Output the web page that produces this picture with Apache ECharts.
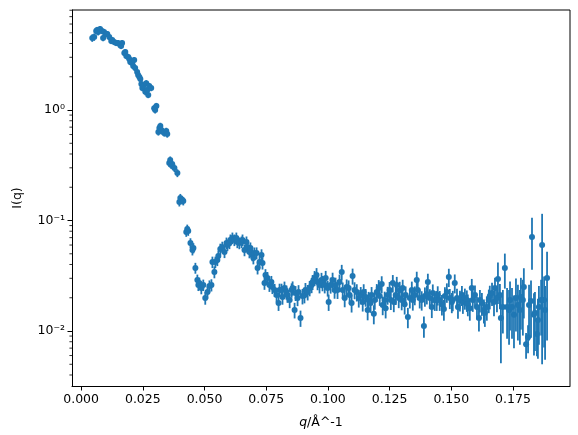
<!DOCTYPE html>
<html>
<head>
<meta charset="utf-8">
<script src="https://cdn.jsdelivr.net/npm/echarts@6/dist/echarts.min.js"></script>
<style>
html, body { margin: 0; padding: 0; background: #fff; }
#chart { width: 578px; height: 435px; }
</style>
</head>
<body>
<div id="chart"></div>
<script>
// scattering vector q (1/Å)
var qValues = [
  0.0045,0.0053,0.0061,0.0065,0.0069,0.0077,0.0085,0.0089,0.0093,0.0102,
  0.0106,0.0114,0.0122,0.0126,0.0134,0.0142,0.0150,0.0158,0.0162,0.0166,
  0.0175,0.0179,0.0183,0.0191,0.0195,0.0199,0.0207,0.0211,0.0215,0.0219,
  0.0227,0.0231,0.0236,0.0240,0.0244,0.0248,0.0252,0.0260,0.0264,0.0268,
  0.0272,0.0276,0.0284,0.0296,0.0300,0.0305,0.0313,0.0317,0.0321,0.0325,
  0.0333,0.0337,0.0345,0.0349,0.0357,0.0361,0.0365,0.0369,0.0378,0.0390,
  0.0398,0.0402,0.0410,0.0414,0.0426,0.0430,0.0434,0.0443,0.0451,0.0455,
  0.0463,0.0471,0.0475,0.0479,0.0487,0.0495,0.0503,0.0512,0.0520,0.0528,
  0.0532,0.0540,0.0544,0.0552,0.0556,0.0564,0.0572,0.0581,0.0589,0.0593,
  0.0601,0.0605,0.0613,0.0621,0.0629,0.0633,0.0641,0.0650,0.0654,0.0662,
  0.0670,0.0674,0.0682,0.0686,0.0694,0.0698,0.0702,0.0711,0.0715,0.0723,
  0.0731,0.0735,0.0743,0.0747,0.0755,0.0763,0.0771,0.0775,0.0784,0.0792,
  0.0800,0.0804,0.0812,0.0816,0.0824,0.0832,0.0836,0.0845,0.0853,0.0857,
  0.0865,0.0869,0.0877,0.0881,0.0889,0.0897,0.0905,0.0909,0.0918,0.0926,
  0.0934,0.0938,0.0946,0.0954,0.0958,0.0966,0.0974,0.0978,0.0987,0.0991,
  0.0999,0.1003,0.1011,0.1019,0.1027,0.1031,0.1039,0.1047,0.1056,0.1060,
  0.1068,0.1076,0.1084,0.1088,0.1096,0.1100,0.1108,0.1117,0.1125,0.1133,
  0.1141,0.1145,0.1153,0.1161,0.1165,0.1173,0.1177,0.1186,0.1190,0.1198,
  0.1206,0.1210,0.1218,0.1222,0.1230,0.1234,0.1242,0.1250,0.1255,0.1263,
  0.1267,0.1275,0.1279,0.1287,0.1291,0.1299,0.1303,0.1311,0.1315,0.1324,
  0.1332,0.1340,0.1344,0.1352,0.1360,0.1364,0.1372,0.1380,0.1389,0.1393,
  0.1401,0.1405,0.1413,0.1421,0.1425,0.1433,0.1441,0.1445,0.1453,0.1462,
  0.1470,0.1474,0.1482,0.1490,0.1494,0.1502,0.1506,0.1514,0.1523,0.1527,
  0.1535,0.1543,0.1547,0.1555,0.1563,0.1567,0.1575,0.1583,0.1587,0.1596,
  0.1604,0.1612,0.1616,0.1624,0.1632,0.1636,0.1644,0.1652,0.1656,0.1665,
  0.1673,0.1677,0.1685,0.1689,0.1697,0.1701,0.1709,0.1717,0.1726,0.1734,
  0.1738,0.1746,0.1754,0.1762,0.1770,0.1778,0.1782,0.1790,0.1794,0.1803,
  0.1811,0.1815,0.1823,0.1827,0.1835,0.1839,0.1847,0.1851,0.1855,0.1864,
  0.1868,0.1876,0.1880,0.1888
];

// intensity I(q)
var intensity = [
  4.49,4.58,5.19,5.30,5.08,5.41,5.19,4.49,5.08,4.87,
  4.87,4.58,4.21,4.30,4.12,4.04,4.04,3.87,3.79,4.04,
  3.28,3.35,3.08,3.02,2.90,2.72,2.66,2.50,2.83,2.40,
  2.21,2.07,1.99,1.91,1.72,1.58,1.65,1.46,1.75,1.52,
  1.37,1.65,1.58,1.04,1.00,1.09,0.632,0.687,0.717,0.659,
  0.632,0.619,0.646,0.607,0.331,0.353,0.318,0.325,0.299,0.269,
  0.147,0.160,0.153,0.150,0.0787,0.0838,0.0804,0.0626,0.0541,0.0564,
  0.0372,0.0290,0.0261,0.0272,0.0245,0.0261,0.0199,0.0225,0.0255,0.0261,
  0.0421,0.0342,0.0421,0.0439,0.0477,0.0552,0.0575,0.0519,0.0626,0.0600,
  0.0626,0.0667,0.0695,0.0667,0.0695,0.0639,0.0626,0.0639,0.0667,0.0541,
  0.0639,0.0575,0.0519,0.0564,0.0488,0.0458,0.0508,0.0508,0.0372,0.0421,
  0.0488,0.0412,0.0272,0.0321,0.0302,0.0261,0.0278,0.0250,0.0235,0.0212,
  0.0179,0.0235,0.0235,0.0203,0.0245,0.0225,0.0212,0.0191,0.0235,0.0245,
  0.0155,0.0221,0.0199,0.0225,0.0131,0.0207,0.0212,0.0235,0.0225,0.0245,
  0.0261,0.0278,0.0302,0.0321,0.0278,0.0261,0.0290,0.0272,0.0261,0.0302,
  0.0245,0.0183,0.0261,0.0290,0.0235,0.0261,0.0235,0.0278,0.0342,0.0235,
  0.0199,0.0250,0.0245,0.0212,0.0179,0.0315,0.0235,0.0225,0.0199,0.0212,
  0.0183,0.0225,0.0203,0.0155,0.0191,0.0179,0.0212,0.0143,0.0191,0.0225,
  0.0245,0.0207,0.0266,0.0172,0.0191,0.0161,0.0212,0.0235,0.0191,0.0272,
  0.0183,0.0212,0.0261,0.0199,0.0235,0.0191,0.0245,0.0175,0.0212,0.0134,
  0.0199,0.0235,0.0191,0.0212,0.0290,0.0235,0.0199,0.0191,0.0111,0.0207,
  0.0216,0.0278,0.0199,0.0165,0.0221,0.0191,0.0191,0.0212,0.0191,0.0175,
  0.0158,0.0207,0.0225,0.0308,0.0199,0.0183,0.0191,0.0272,0.0199,0.0165,
  0.0191,0.0212,0.0183,0.0199,0.0191,0.0175,0.0161,0.0245,0.0191,0.0212,
  0.0165,0.0131,0.0191,0.0179,0.0155,0.0146,0.0165,0.0191,0.0207,0.0221,
  0.0183,0.0245,0.0199,0.0296,0.0212,0.0131,0.0165,0.0372,0.0165,0.0155,
  0.0191,0.0165,0.0140,0.0199,0.0172,0.0155,0.0203,0.0191,0.0250,0.0076,
  0.0088,0.0172,0.0187,0.0709,0.0140,0.0146,0.0094,0.0126,0.0165,0.0191,
  0.0600,0.0191,0.0155,0.0302
];

// error bar half-lengths
var errors = [
  0.35,0.35,0.35,0.35,0.35,0.35,0.33,0.30,0.33,0.30,
  0.30,0.28,0.26,0.26,0.25,0.25,0.24,0.23,0.23,0.24,
  0.20,0.20,0.19,0.18,0.18,0.17,0.16,0.15,0.17,0.15,
  0.14,0.13,0.12,0.12,0.11,0.10,0.10,0.10,0.11,0.10,
  0.09,0.11,0.10,0.07,0.07,0.07,0.045,0.05,0.05,0.045,
  0.045,0.045,0.045,0.045,0.025,0.027,0.025,0.025,0.024,0.022,
  0.013,0.014,0.013,0.013,0.0075,0.008,0.0077,0.0065,0.0058,0.006,
  0.0042,0.0034,0.0031,0.0032,0.003,0.0031,0.0026,0.0029,0.0032,0.0033,
  0.005,0.0042,0.005,0.0052,0.0056,0.0065,0.0068,0.0062,0.0075,0.0072,
  0.0075,0.008,0.0083,0.008,0.0083,0.0077,0.0076,0.0077,0.008,0.0066,
  0.0078,0.007,0.0064,0.0069,0.006,0.0057,0.0062,0.0063,0.0047,0.0053,
  0.0061,0.0052,0.0036,0.0042,0.004,0.0035,0.0037,0.0034,0.0032,0.003,
  0.0027,0.0033,0.0033,0.003,0.0035,0.0033,0.0032,0.003,0.0035,0.0036,
  0.0025,0.0034,0.0031,0.0035,0.0022,0.0033,0.0034,0.0037,0.0036,0.0039,
  0.0041,0.0043,0.0047,0.005,0.0044,0.0042,0.0046,0.0043,0.0042,0.0048,
  0.004,0.0031,0.0043,0.0047,0.0039,0.0043,0.004,0.0046,0.0055,0.004,
  0.0035,0.0043,0.0042,0.0037,0.0032,0.0052,0.0041,0.004,0.0036,0.0038,
  0.0033,0.004,0.0037,0.003,0.0035,0.0033,0.0038,0.0028,0.0035,0.0041,
  0.0044,0.0038,0.0047,0.0033,0.0036,0.0031,0.0039,0.0043,0.0036,0.0049,
  0.0035,0.004,0.0048,0.0038,0.0044,0.0037,0.0046,0.0034,0.0041,0.0028,
  0.0039,0.0045,0.0038,0.0041,0.0054,0.0045,0.0039,0.0038,0.0024,0.0041,
  0.0042,0.0052,0.004,0.0034,0.0043,0.0039,0.0039,0.0042,0.0039,0.0037,
  0.0034,0.0042,0.0045,0.0058,0.0041,0.0038,0.004,0.0053,0.0042,0.0036,
  0.0041,0.0044,0.004,0.0043,0.0042,0.0039,0.0037,0.0051,0.0042,0.0046,
  0.0038,0.0032,0.0044,0.0042,0.0038,0.0037,0.0041,0.0046,0.005,0.0053,
  0.0047,0.0058,0.0051,0.012,0.0055,0.008,0.007,0.013,0.008,0.008,
  0.009,0.008,0.007,0.010,0.009,0.008,0.010,0.010,0.012,0.002,
  0.0025,0.009,0.010,0.035,0.008,0.008,0.0035,0.007,0.009,0.010,
  0.055,0.012,0.010,0.022
];

var xTicks = [0, 0.025, 0.05, 0.075, 0.1, 0.125, 0.15, 0.175];
var yMinorTicks = [
  0.004,0.005,0.006,0.007,0.008,0.009,
  0.02,0.03,0.04,0.05,0.06,0.07,0.08,0.09,
  0.2,0.3,0.4,0.5,0.6,0.7,0.8,0.9,
  2,3,4,5,6,7,8
];

var X_MIN = -0.0037, X_MAX = 0.1981;
var Y_MIN = 0.00318, Y_MAX = 8.04;
var BLUE = '#1f77b4';
var FONT = 'DejaVu Sans';

var points = qValues.map(function (q, i) { return [q, intensity[i]]; });
var bars = qValues.map(function (q, i) { return [q, intensity[i], errors[i]]; });
var minorData = yMinorTicks.map(function (v) { return [X_MIN, v]; });

var SUP = { '0': '\u2070', '1': '\u00b9', '2': '\u00b2', '3': '\u00b3', '-': '\u207b' };
function powLabel(v) {
  var e = String(Math.round(Math.log10(v)));
  return '10' + e.split('').map(function (c) { return SUP[c]; }).join('');
}

var chart = echarts.init(document.getElementById('chart'));
chart.setOption({
  animation: false,
  backgroundColor: '#fff',
  grid: { left: 72, right: 8, top: 10, bottom: 49, show: false },
  xAxis: {
    type: 'value',
    min: X_MIN,
    max: X_MAX,
    name: '{i|q}/Å^-1',
    nameLocation: 'middle',
    nameGap: 30,
    nameTextStyle: {
      color: '#000', fontFamily: FONT, fontSize: 12.5,
      rich: { i: { fontStyle: 'italic', fontFamily: FONT, fontSize: 12.5, color: '#000' } }
    },
    splitLine: { show: false },
    axisLine: { show: true, onZero: false, lineStyle: { color: '#000', width: 1 } },
    axisTick: { show: true, length: 4.5, customValues: xTicks, lineStyle: { color: '#000' } },
    axisLabel: {
      customValues: xTicks,
      margin: 7,
      color: '#000', fontFamily: FONT, fontSize: 12.5,
      formatter: function (v) { return v.toFixed(3); }
    }
  },
  yAxis: {
    type: 'log',
    logBase: 10,
    min: Y_MIN,
    max: Y_MAX,
    name: 'I(q)',
    nameLocation: 'middle',
    nameGap: 48,
    nameTextStyle: { color: '#000', fontFamily: FONT, fontSize: 12.5 },
    splitLine: { show: false },
    minorTick: { show: false },
    axisLine: { show: true, onZero: false, lineStyle: { color: '#000', width: 1 } },
    axisTick: { show: true, length: 4.5, lineStyle: { color: '#000' } },
    axisLabel: {
      showMinLabel: false,
      showMaxLabel: false,
      margin: 7,
      color: '#000', fontFamily: FONT, fontSize: 12.5,
      formatter: powLabel
    }
  },
  series: [
    {
      // error bars
      type: 'custom',
      clip: true,
      silent: true,
      encode: { x: 0, y: 1 },
      data: bars,
      renderItem: function (params, api) {
        var q = api.value(0), v = api.value(1), e = api.value(2);
        var lo = v - e > 0 ? v - e : Y_MIN;
        var p1 = api.coord([q, lo]);
        var p2 = api.coord([q, v + e]);
        return {
          type: 'line',
          shape: { x1: p1[0], y1: p1[1], x2: p2[0], y2: p2[1] },
          style: { stroke: BLUE, lineWidth: 1.8 }
        };
      }
    },
    {
      type: 'scatter',
      symbol: 'circle',
      symbolSize: 6,
      silent: true,
      itemStyle: { color: BLUE, opacity: 1 },
      data: points
    },
    {
      // minor log ticks on the y axis
      type: 'custom',
      clip: false,
      silent: true,
      encode: { x: 0, y: 1 },
      data: minorData,
      renderItem: function (params, api) {
        var p = api.coord([api.value(0), api.value(1)]);
        return {
          type: 'line',
          shape: { x1: p[0] - 2.6, y1: p[1], x2: p[0], y2: p[1] },
          style: { stroke: '#000', lineWidth: 0.8 }
        };
      }
    },
    {
      // frame: top and right edges
      type: 'custom',
      clip: false,
      silent: true,
      data: [[X_MIN, Y_MIN]],
      encode: { x: 0, y: 1 },
      renderItem: function (params, api) {
        var a = api.coord([X_MIN, Y_MAX]);
        var b = api.coord([X_MAX, Y_MAX]);
        var c = api.coord([X_MAX, Y_MIN]);
        return {
          type: 'polyline',
          shape: { points: [a, b, c] },
          style: { stroke: '#000', lineWidth: 1, fill: null }
        };
      }
    }
  ]
});
window.addEventListener('resize', function () { chart.resize(); });
</script>
</body>
</html>
